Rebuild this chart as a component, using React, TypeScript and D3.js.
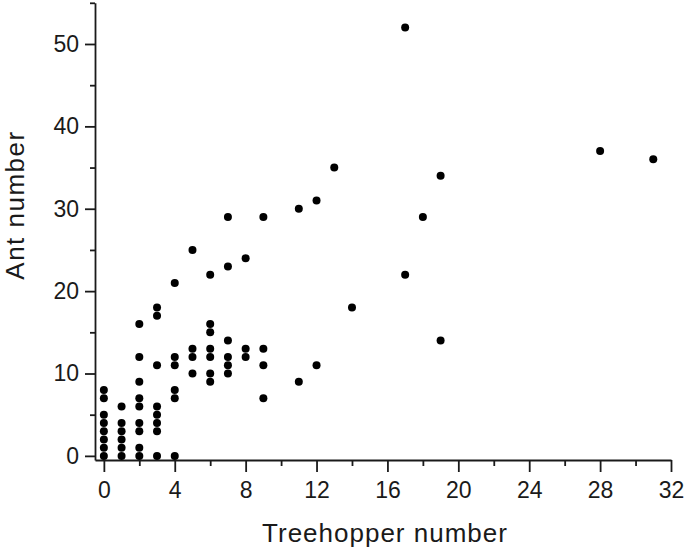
import { useEffect, useRef } from "react";
import * as d3 from "d3";

// treehopper number (x) and ant number (y) per tree
const treehoppers = [
  0, 0, 0, 0, 0, 0, 0, 0,
  1, 1, 1, 1, 1, 1,
  2, 2, 2, 2, 2, 2, 2, 2, 2,
  3, 3, 3, 3, 3, 3, 3, 3,
  4, 4, 4, 4, 4, 4,
  5, 5, 5, 5,
  6, 6, 6, 6, 6, 6, 6,
  7, 7, 7, 7, 7, 7,
  8, 8, 8,
  9, 9, 9, 9,
  11, 11, 12, 12, 13, 14, 17, 17, 18, 19, 19, 28, 31,
];
const ants = [
  0, 1, 2, 3, 4, 5, 7, 8,
  0, 1, 2, 3, 4, 6,
  0, 1, 3, 4, 6, 7, 9, 12, 16,
  0, 3, 4, 5, 6, 11, 17, 18,
  0, 7, 8, 11, 12, 21,
  10, 12, 13, 25,
  9, 10, 12, 13, 15, 16, 22,
  10, 11, 12, 14, 23, 29,
  12, 13, 24,
  7, 11, 13, 29,
  9, 30, 11, 31, 35, 18, 22, 52, 29, 14, 34, 37, 36,
];

const xMajor = [0, 4, 8, 12, 16, 20, 24, 28, 32];
const xMinor = [2, 6, 10, 14, 18, 22, 26, 30];
const yMajor = [0, 10, 20, 30, 40, 50];
const yMinor = [5, 15, 25, 35, 45, 55];

const xTitle = "Treehopper number";
const yTitle = "Ant number";

const App = () => {
  const svgRef = useRef(null);

  useEffect(() => {
    if (!svgRef.current) return;
    const root = d3.select(svgRef.current);
    root.selectAll("*").remove();

    const font = "'Liberation Sans', Arial, sans-serif";
    const ink = "#1a1a1a";

    const x = d3.scaleLinear().domain([-0.5, 32]).range([95, 671]);
    const y = d3.scaleLinear().domain([-0.5, 55]).range([460, 2.8]);

    // x axis
    root
      .append("g")
      .attr("transform", `translate(0,${y(-0.5)})`)
      .call(
        d3.axisBottom(x).tickValues(xMajor).tickSize(12).tickSizeOuter(0).tickPadding(10)
      );
    root
      .append("g")
      .attr("transform", `translate(0,${y(-0.5)})`)
      .call(d3.axisBottom(x).tickValues(xMinor).tickSize(6).tickFormat(() => ""))
      .select(".domain")
      .remove();

    // y axis
    root
      .append("g")
      .attr("transform", `translate(${x(-0.5)},0)`)
      .call(
        d3.axisLeft(y).tickValues(yMajor).tickSize(10).tickSizeOuter(0).tickPadding(6)
      );
    root
      .append("g")
      .attr("transform", `translate(${x(-0.5)},0)`)
      .call(d3.axisLeft(y).tickValues(yMinor).tickSize(5).tickFormat(() => ""))
      .select(".domain")
      .remove();

    root.selectAll(".domain").attr("stroke", ink).attr("stroke-width", 1.8);
    root.selectAll(".tick line").attr("stroke", ink).attr("stroke-width", 1.8);
    root
      .selectAll(".tick text")
      .attr("font-family", font)
      .attr("font-size", 23)
      .attr("fill", ink);

    // points
    root
      .append("g")
      .selectAll("circle")
      .data(treehoppers.map((t, i) => [t, ants[i]]))
      .join("circle")
      .attr("cx", (d) => x(d[0]))
      .attr("cy", (d) => y(d[1]))
      .attr("r", 4)
      .attr("fill", "#000");

    // titles
    root
      .append("text")
      .attr("x", 385)
      .attr("y", 542)
      .attr("text-anchor", "middle")
      .attr("font-family", font)
      .attr("font-size", 26)
      .attr("letter-spacing", 1)
      .attr("fill", ink)
      .text(xTitle);

    root
      .append("text")
      .attr("transform", "translate(24,205) rotate(-90)")
      .attr("text-anchor", "middle")
      .attr("font-family", font)
      .attr("font-size", 26)
      .attr("letter-spacing", 1.5)
      .attr("fill", ink)
      .text(yTitle);
  }, []);

  return (
    <svg
      ref={svgRef}
      width={685}
      height={552}
      style={{ position: "absolute", left: 0, top: 0, background: "#fff" }}
    />
  );
};

export default App;
